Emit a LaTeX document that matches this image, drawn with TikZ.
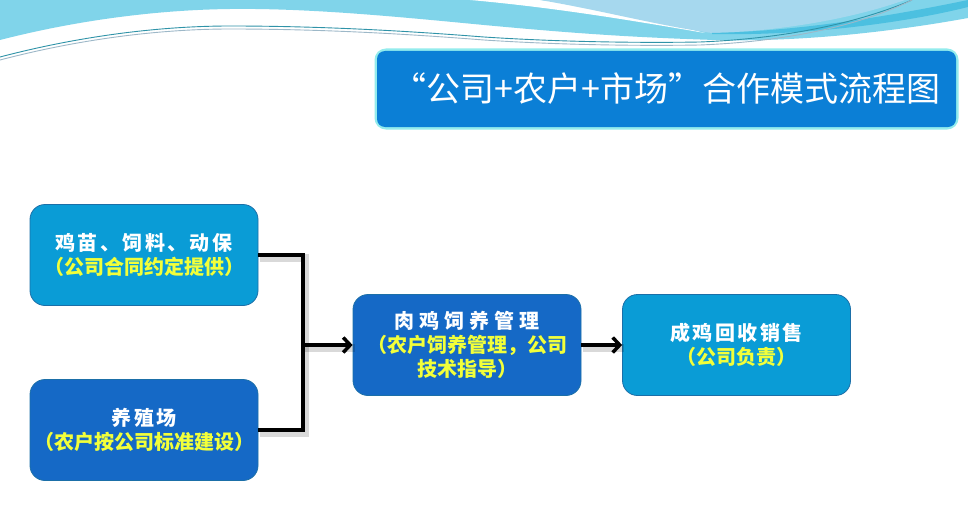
\documentclass[tikz,border=0pt]{standalone}
\usepackage{fontspec}
\setmainfont{Noto Sans CJK SC}
\usetikzlibrary{positioning}
\usetikzlibrary{arrows.meta}

\definecolor{skyband}{HTML}{80D4EA}
\definecolor{skybubble}{HTML}{A6D8EE}
\definecolor{skydeep}{HTML}{4CC0E0}
\definecolor{wavelineA}{HTML}{2F93A8}
\definecolor{wavelineB}{HTML}{9DB8C8}
\definecolor{titleblue}{HTML}{0B7FD6}
\definecolor{titleglow}{HTML}{66E4E6}
\definecolor{lightblue}{HTML}{0A9CD6}
\definecolor{darkblue}{HTML}{1569C6}
\definecolor{boxedge}{HTML}{1B6FA8}
\definecolor{noteyellow}{HTML}{F2FF3A}

\begin{document}
\begin{tikzpicture}[x=1pt, y=-1pt,
    box/.style={draw=boxedge, line width=0.8pt, rounded corners=15pt,
      minimum width=228pt, minimum height=101pt, align=center,
      inner sep=2pt, font=\fontsize{20}{24}\selectfont\bfseries},
    lightbox/.style={box, fill=lightblue},
    darkbox/.style={box, fill=darkblue},
    flow/.style={line width=3.5pt, black},
    flowshadow/.style={line width=8pt, black, opacity=0.15,
      transform canvas={shift={(2pt,-2.5pt)}}},
    arrowhead/.style={-{Straight Barb[length=7pt, width=15pt]}}
  ]
    \useasboundingbox (0, 0) rectangle (968, 508);
    \fill[white] (0, 0) rectangle (968, 508);

    % top waves
    \fill[skyband] (0, 0) -- (968, 0) -- (968, 18)
      .. controls (880, 34) and (790, 42) .. (715, 40)
      .. controls (620, 37) and (560, 32) .. (484, 25)
      .. controls (400, 17) and (310, 8) .. (230, 9)
      .. controls (150, 10) and (70, 22) .. (0, 40) -- cycle;
    \fill[white] (470, 0) .. controls (560, 8) and (640, 22) .. (705, 33)
      .. controls (640, 16) and (590, 5) .. (540, 0) -- cycle;
    \fill[skybubble] (540, 0) .. controls (600, 10) and (660, 26) .. (712, 33)
      .. controls (790, 31) and (860, 16) .. (905, 0) -- cycle;
    \fill[skydeep] (712, 33) .. controls (810, 31) and (910, 12) .. (968, 0)
      -- (968, 7) .. controls (900, 24) and (800, 36) .. (712, 34) -- cycle;
    \foreach \dy/\col in {0/wavelineA, 3/wavelineB}
    \draw[\col, line width=0.9pt] (0, 57+\dy) .. controls (80, 36+\dy) and (160, 26+\dy) .. (230, 26+\dy)
      .. controls (330, 26+\dy) and (420, 32+\dy) .. (484, 37+\dy)
      .. controls (560, 42+\dy) and (640, 43+\dy) .. (700, 42+\dy)
      .. controls (800, 38+\dy) and (870, 18+\dy) .. (912, 0);

    % title
    \draw[titleglow, line width=5pt, rounded corners=9pt, opacity=0.7] (377, 51) rectangle (956, 127);
    \node[fill=titleblue, rounded corners=8pt, minimum width=579pt, minimum height=76pt,
      text=white, font=\fontsize{34}{36}\selectfont] (title) at (666.5, 89) {“公司+农户+市场”合作模式流程图};

    % boxes
    \node[lightbox] (chick) at (144, 255)
      {{\color{white}\addfontfeature{LetterSpace=12}鸡苗、饲料、动保}\\
       \textcolor{noteyellow}{（公司合同约定提供）}};
    \node[darkbox] (farm) at (144, 430)
      {{\color{white}\addfontfeature{LetterSpace=12}养殖场}\\
       \textcolor{noteyellow}{（农户按公司标准建设）}};
    \node[darkbox] (raise) at (467, 345)
      {{\color{white}\addfontfeature{LetterSpace=25}肉鸡饲养管理}\\
       \textcolor{noteyellow}{（农户饲养管理，公司}\\
       \textcolor{noteyellow}{技术指导）}};
    \node[lightbox] (sell) at (736.5, 345)
      {{\color{white}\addfontfeature{LetterSpace=12}成鸡回收销售}\\
       \textcolor{noteyellow}{（公司负责）}};

    % connectors
    \coordinate (join) at (303, 345);
    \draw[flowshadow] (chick.east) -| (join) |- (farm.east);
    \draw[flowshadow] (join) -- (raise.west);
    \draw[flowshadow] (raise.east) -- (sell.west);
    \draw[flow] (chick.east) -| (join) |- (farm.east);
    \draw[flow, arrowhead] (join) -- (raise.west);
    \draw[flow, arrowhead] (raise.east) -- (sell.west);
\end{tikzpicture}
\end{document}
